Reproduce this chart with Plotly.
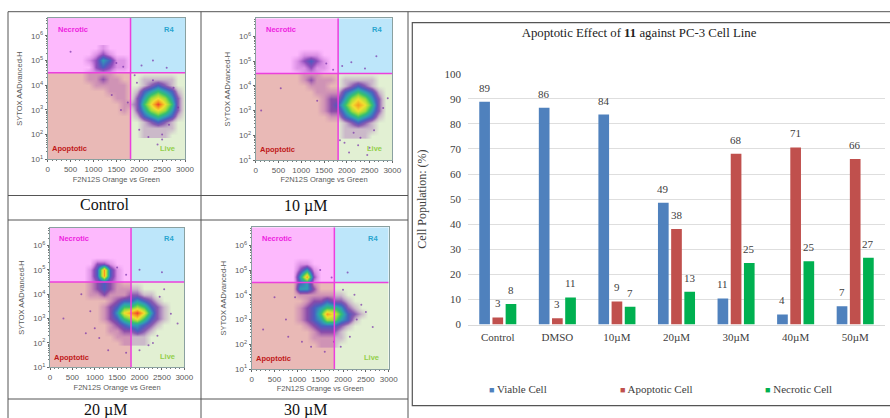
import numpy as np
import plotly.graph_objects as go

W, H = 890, 418

# ---------- bar chart data ----------
categories = ["Control", "DMSO", "10µM", "20µM", "30µM", "40µM", "50µM"]
viable_values = [88.8, 86.4, 83.7, 48.5, 10.4, 4.0, 7.3]
apoptotic_values = [2.8, 2.5, 9.2, 38.1, 68.1, 70.6, 66.0]
necrotic_values = [8.2, 10.8, 7.1, 13.1, 24.5, 25.2, 26.6]
viable_labels = ["89", "86", "84", "49", "11", "4", "7"]
apoptotic_labels = ["3", "3", "9", "38", "68", "71", "66"]
necrotic_labels = ["8", "11", "7", "13", "25", "25", "27"]
y_ticks = [0, 10, 20, 30, 40, 50, 60, 70, 80, 90, 100]

# ---------- dot-plot density read by eye (0 = empty, 9 = densest) ----------
density_x = [0, 150, 300, 450, 600, 750, 900, 1050, 1200, 1350, 1500, 1650, 1800, 1950, 2100, 2250, 2400, 2550, 2700, 2850, 3000]
density_y = [5.5, 5.25, 5.0, 4.75, 4.5, 4.25, 4.0, 3.75, 3.5, 3.25, 3.0, 2.75, 2.5, 2.25, 2.0]

density_control = [
    [0,0,0,0,0,0,0,0,1,0,0,0,0,0,0,0,0,0,0,0,0],
    [0,0,0,0,0,0,0,1,2,1,0,0,0,0,0,0,0,0,0,0,0],
    [0,0,0,0,0,0,1,2,4,3,1,1,0,0,0,0,0,0,0,0,0],
    [0,0,0,0,0,0,0,2,3,2,1,1,0,0,0,0,0,0,0,0,0],
    [0,0,0,0,0,0,1,1,1,1,0,0,0,0,0,0,0,0,0,0,0],
    [0,0,0,0,0,0,1,1,2,1,1,0,0,0,1,1,1,1,1,0,0],
    [0,0,0,0,0,0,0,1,1,1,1,1,0,0,1,2,3,2,1,0,0],
    [0,0,0,0,0,0,0,0,0,1,1,1,0,1,3,4,5,4,3,1,0],
    [0,0,0,0,0,0,0,0,0,0,1,1,0,2,4,6,7,6,4,2,0],
    [0,0,0,0,0,0,0,0,0,0,0,1,1,2,5,7,9,7,5,2,0],
    [0,0,0,0,0,0,0,0,0,0,0,1,0,2,4,6,7,6,4,2,0],
    [0,0,0,0,0,0,0,0,0,0,0,0,0,1,3,4,5,4,3,1,0],
    [0,0,0,0,0,0,0,0,0,0,0,0,0,0,1,2,3,2,1,0,0],
    [0,0,0,0,0,0,0,0,0,0,0,0,0,0,1,1,1,1,1,0,0],
    [0,0,0,0,0,0,0,0,0,0,0,0,0,0,1,1,1,1,0,0,0],
]
density_10um = [
    [0,0,0,0,0,0,0,0,0,0,0,0,0,0,0,0,0,0,0,0,0],
    [0,0,0,0,0,0,0,1,1,1,0,0,0,0,0,0,0,0,0,0,0],
    [0,0,0,0,0,0,1,2,3,2,1,0,0,0,0,0,0,0,0,0,0],
    [0,0,0,0,0,0,1,1,2,1,1,0,0,0,0,0,0,0,0,0,0],
    [0,0,0,0,0,0,0,1,1,1,0,0,0,0,0,0,0,0,0,0,0],
    [0,0,0,0,0,0,0,1,2,1,1,1,0,1,1,1,1,1,0,0,0],
    [0,0,0,0,0,0,0,0,1,1,1,0,0,1,2,3,2,1,0,0,0],
    [0,0,0,0,0,0,0,0,0,1,1,1,1,3,4,5,4,3,1,0,0],
    [0,0,0,0,0,0,0,0,0,0,1,2,2,4,6,7,6,4,2,0,0],
    [0,0,0,0,0,0,0,0,0,0,1,2,3,5,7,8,7,5,2,0,0],
    [0,0,0,0,0,0,0,0,0,0,1,2,2,4,6,7,6,4,2,0,0],
    [0,0,0,0,0,0,0,0,0,0,0,1,1,3,4,5,4,3,1,0,0],
    [0,0,0,0,0,0,0,0,0,0,0,0,0,1,2,3,2,1,0,0,0],
    [0,0,0,0,0,0,0,0,0,0,0,0,0,1,1,1,1,1,0,0,0],
    [0,0,0,0,0,0,0,0,0,0,0,0,0,1,1,1,1,0,0,0,0],
]
density_20um = [
    [0,0,0,0,0,0,0,0,0,0,0,0,0,0,0,0,0,0,0,0,0],
    [0,0,0,0,0,0,0,2,2,1,0,0,0,0,0,0,0,0,0,0,0],
    [0,0,0,0,0,0,1,3,8,3,1,0,0,0,0,0,0,0,0,0,0],
    [0,0,0,0,0,0,1,3,8,3,1,0,0,0,0,0,0,0,0,0,0],
    [0,0,0,0,0,0,1,2,3,2,1,0,0,0,0,0,0,0,0,0,0],
    [0,0,0,0,0,0,1,2,3,2,1,1,1,1,0,0,0,0,0,0,0],
    [0,0,0,0,0,0,1,1,2,1,1,1,2,2,1,1,0,0,0,0,0],
    [0,0,0,0,0,0,0,0,0,1,2,3,3,4,3,2,1,0,0,0,0],
    [0,0,0,0,0,0,0,0,1,2,3,5,5,6,5,3,2,1,0,0,0],
    [0,0,0,0,0,0,0,0,1,2,4,7,8,9,7,4,2,1,0,0,0],
    [0,0,0,0,0,0,0,0,1,2,3,5,6,7,5,3,2,1,0,0,0],
    [0,0,0,0,0,0,0,0,0,1,2,3,4,4,3,2,1,0,0,0,0],
    [0,0,0,0,0,0,0,0,0,1,1,2,2,3,2,1,0,0,0,0,0],
    [0,0,0,0,0,0,0,0,0,0,1,1,1,1,1,0,0,0,0,0,0],
    [0,0,0,0,0,0,0,0,0,0,0,1,1,1,1,0,0,0,0,0,0],
]
density_30um = [
    [0,0,0,0,0,0,0,0,0,0,0,0,0,0,0,0,0,0,0,0,0],
    [0,0,0,0,0,0,0,1,1,0,0,0,0,0,0,0,0,0,0,0,0],
    [0,0,0,0,0,0,0,2,4,1,0,0,0,0,0,0,0,0,0,0,0],
    [0,0,0,0,0,0,0,4,8,2,0,0,0,0,0,0,0,0,0,0,0],
    [0,0,0,0,0,0,0,3,4,1,0,0,0,0,0,0,0,0,0,0,0],
    [0,0,0,0,0,0,0,4,4,2,0,0,0,0,0,0,0,0,0,0,0],
    [0,0,0,0,0,0,0,1,1,1,1,1,1,1,0,0,0,0,0,0,0],
    [0,0,0,0,0,0,0,0,1,2,2,3,2,2,1,0,0,0,0,0,0],
    [0,0,0,0,0,0,0,1,2,3,4,5,5,4,2,1,0,0,0,0,0],
    [0,0,0,0,0,0,0,1,2,3,5,8,7,5,3,2,1,0,0,0,0],
    [0,0,0,0,0,0,0,1,2,3,4,6,6,4,3,1,0,0,0,0,0],
    [0,0,0,0,0,0,0,0,1,2,3,3,3,2,1,0,0,0,0,0,0],
    [0,0,0,0,0,0,0,0,0,1,2,2,2,1,0,0,0,0,0,0,0],
    [0,0,0,0,0,0,0,0,0,1,1,1,1,1,0,0,0,0,0,0,0],
    [0,0,0,0,0,0,0,0,0,0,1,1,1,0,0,0,0,0,0,0,0],
]

# ---------- stray dots read by eye ----------
stray_control_x = [500, 1500, 1650, 1400, 1750, 1600, 1900, 2050, 2300, 2600, 2750, 2850, 2500, 2200, 2400, 2000, 2650, 1950, 2300, 2500]
stray_control_y = [5.35, 4.9, 4.75, 3.6, 3.3, 3.0, 4.4, 4.8, 5.0, 4.7, 3.9, 3.1, 2.0, 1.9, 1.6, 2.2, 2.4, 4.1, 4.2, 1.8]
stray_10um_x = [550, 120, 1550, 1700, 1900, 2100, 2400, 2650, 2800, 2900, 2250, 2050, 2500, 1950, 2300, 2450, 2150, 1850, 2600, 1350]
stray_10um_y = [3.9, 3.0, 4.9, 4.65, 4.8, 4.95, 4.7, 5.2, 3.1, 3.5, 1.6, 1.3, 1.5, 1.7, 1.9, 1.2, 2.1, 1.8, 2.2, 3.4]
stray_20um_x = [300, 800, 700, 1500, 1700, 2000, 2500, 2700, 2850, 2400, 2300, 2550, 1000, 900, 1100, 1300, 1700, 2000, 2200, 2450]
stray_20um_y = [3.0, 2.4, 4.0, 5.1, 4.8, 5.0, 4.9, 3.2, 2.8, 2.3, 2.0, 4.2, 2.6, 3.3, 2.2, 1.7, 1.6, 1.7, 1.9, 3.9]
stray_30um_x = [500, 250, 750, 1500, 1750, 2100, 2300, 2500, 2650, 2150, 1950, 2250, 800, 950, 1100, 1300, 1600, 1800, 2400, 2000]
stray_30um_y = [3.9, 2.6, 3.0, 5.0, 4.7, 4.9, 3.0, 3.3, 2.7, 2.3, 1.9, 4.0, 2.3, 3.9, 2.1, 1.9, 1.7, 2.1, 3.6, 4.2]

panel_names = ["Control", "10 µM", "20 µM", "30 µM"]
density_grids = [density_control, density_10um, density_20um, density_30um]
stray_x = [stray_control_x, stray_10um_x, stray_20um_x, stray_30um_x]
stray_y = [stray_control_y, stray_10um_y, stray_20um_y, stray_30um_y]
flow_x_ticks = [0, 500, 1000, 1500, 2000, 2500, 3000]
flow_y_ticks = [1, 2, 3, 4, 5, 6]
flow_y_labels = ["10<sup>1</sup>", "10<sup>2</sup>", "10<sup>3</sup>", "10<sup>4</sup>", "10<sup>5</sup>", "10<sup>6</sup>"]
gate_x = 1810
gate_y = 4.5

# ---------- layout helpers ----------
def dx(a, b):
    return [a / W, b / W]

def dy(top, bottom):
    return [1 - bottom / H, 1 - top / H]

SERIF = "Liberation Serif"
SANS = "Liberation Sans"
GRAY = "#5a5a5a"

panels = [
    dict(x=(47.7, 185), y=(17.7, 159.3), cx=104, cy=205),
    dict(x=(255.7, 392.3), y=(18.3, 160), cx=305, cy=206),
    dict(x=(50, 184.3), y=(227.7, 367.3), cx=105, cy=410),
    dict(x=(251.7, 388.7), y=(227.3, 369), cx=305, cy=410),
]

colorscale = [
    [0.0, "rgba(150,60,180,0)"],
    [1 / 9, "rgba(150,60,180,0.3)"],
    [2 / 9, "rgba(105,40,165,0.75)"],
    [3 / 9, "#4a5fc0"],
    [4 / 9, "#2f9fb5"],
    [5 / 9, "#35c070"],
    [6 / 9, "#9fdc3a"],
    [7 / 9, "#f2e030"],
    [8 / 9, "#f79a20"],
    [1.0, "#ee4030"],
]

fig = go.Figure()
shapes = []
annotations = []
layout = {}

minor_y = [float(d + np.log10(m)) for d in range(1, 7) for m in range(2, 10) if d + np.log10(m) < 6.7]

for i, p in enumerate(panels):
    n = i + 1
    xa, ya = f"x{n}", f"y{n}"
    y_top = 6.73
    layout[f"xaxis{n}"] = dict(
        domain=dx(*p["x"]), anchor=ya, range=[0, 3000], tickvals=flow_x_ticks, automargin=False,
        ticks="outside", ticklen=2, tickwidth=1, tickcolor="#666",
        tickfont=dict(family=SANS, size=8, color=GRAY), showgrid=False, zeroline=False,
        showline=True, linecolor="#8aa0a0", linewidth=1, mirror=True,
        minor=dict(dtick=100, ticks="outside", ticklen=1, tickcolor="#777"),
        title=dict(text="F2N12S Orange vs Green", standoff=3, font=dict(family=SANS, size=7.5, color=GRAY)),
    )
    layout[f"yaxis{n}"] = dict(
        domain=dy(*p["y"]), anchor=xa, range=[1, y_top], tickvals=flow_y_ticks, ticktext=flow_y_labels,
        automargin=False,
        ticks="outside", ticklen=2, tickwidth=1, tickcolor="#666",
        tickfont=dict(family=SANS, size=8, color=GRAY), showgrid=False, zeroline=False,
        showline=True, linecolor="#8aa0a0", linewidth=1, mirror=True,
        minor=dict(tickvals=minor_y, ticks="outside", ticklen=1, tickcolor="#777"),
        title=dict(text="SYTOX AADvanced-H", standoff=7, font=dict(family=SANS, size=7.5, color=GRAY)),
    )
    # quadrant backgrounds
    for x0, x1, y0, y1, c in [
        (0, gate_x, gate_y, y_top, "#fdb9fd"),
        (gate_x, 3000, gate_y, y_top, "#bde6fa"),
        (0, gate_x, 1, gate_y, "#e9b9b6"),
        (gate_x, 3000, 1, gate_y, "#e2f0d3"),
    ]:
        shapes.append(dict(type="rect", xref=xa, yref=ya, x0=x0, x1=x1, y0=y0, y1=y1,
                           fillcolor=c, line_width=0, layer="below"))
    fig.add_trace(go.Heatmap(
        x=density_x, y=density_y[::-1], z=density_grids[i][::-1], xaxis=xa, yaxis=ya,
        colorscale=colorscale, zmin=0, zmax=9, zsmooth="best", showscale=False, hoverinfo="skip",
    ))
    fig.add_trace(go.Scatter(
        x=stray_x[i], y=stray_y[i], xaxis=xa, yaxis=ya, mode="markers", showlegend=False,
        marker=dict(size=2, color="rgba(120,50,170,0.7)"), hoverinfo="skip",
    ))
    # gates drawn above the dots
    for kw in [dict(x0=gate_x, x1=gate_x, y0=1, y1=y_top), dict(x0=0, x1=3000, y0=gate_y, y1=gate_y)]:
        shapes.append(dict(type="line", xref=xa, yref=ya, line=dict(color="#ec3fdd", width=1.5), layer="above", **kw))
    # quadrant labels
    for tx, ty, txt, col in [
        (546, 6.27, "Necrotic", "#ee22e0"),
        (2658, 6.27, "R4", "#2aa5cf"),
        (473, 1.42, "Apoptotic", "#c01818"),
        (2614, 1.45, "Live", "#93cf4a"),
    ]:
        annotations.append(dict(xref=xa, yref=ya, x=tx, y=ty, text=f"<b>{txt}</b>", showarrow=False,
                                font=dict(family=SANS, size=7.5, color=col)))
    annotations.append(dict(xref="paper", yref="paper", x=p["cx"] / W, y=1 - p["cy"] / H, text=panel_names[i],
                            xanchor="center", yanchor="middle",
                            showarrow=False, font=dict(family=SERIF, size=16, color="#111")))

# ---------- bar chart ----------
series = [
    ("Viable Cell", viable_values, viable_labels, "#4f81bd"),
    ("Apoptotic Cell", apoptotic_values, apoptotic_labels, "#c0504d"),
    ("Necrotic Cell", necrotic_values, necrotic_labels, "#00b050"),
]
slot = 0.2215
for s, (name, vals, labs, col) in enumerate(series):
    fig.add_trace(go.Bar(x=categories, y=vals, name=name, marker=dict(color=col, line_width=0),
                         xaxis="x5", yaxis="y5", showlegend=False))
    for c, (v, lab) in enumerate(zip(vals, labs)):
        annotations.append(dict(xref="x5", yref="y5", x=c + (s - 1) * slot, y=v, yshift=14, text=lab,
                                showarrow=False, font=dict(family=SERIF, size=11, color="#404040")))

layout["xaxis5"] = dict(domain=dx(468, 885), anchor="y5", type="category", categoryorder="array",
                        categoryarray=categories, showgrid=False, ticks="", showline=True, automargin=False,
                        linecolor="#d9d9d9", linewidth=1, ticklabelstandoff=2,
                        tickfont=dict(family=SERIF, size=11, color="#404040"))
layout["yaxis5"] = dict(domain=dy(73.7, 324.5), anchor="x5", range=[0, 100], tickvals=y_ticks, automargin=False,
                        showgrid=True, gridcolor="#dedede", gridwidth=1, zeroline=False, ticks="",
                        ticklabelstandoff=6,
                        tickfont=dict(family=SERIF, size=11, color="#404040"),
                        title=dict(text="Cell Population: (%)", standoff=15,
                                   font=dict(family=SERIF, size=12, color="#404040")))

# legend entries at the reference's uneven spacing
for name, col, lx in [("Viable Cell", "#4f81bd", 487), ("Apoptotic Cell", "#c0504d", 617.5), ("Necrotic Cell", "#00b050", 762.5)]:
    annotations.append(dict(xref="paper", yref="paper", x=lx / W, y=1 - 388.5 / H, xanchor="left", yanchor="middle",
                            text=f"<span style='color:{col};font-size:9px'>■</span> {name}", showarrow=False,
                            font=dict(family=SERIF, size=11, color="#404040")))

# table rules and chart frame
line_col = "#555555"
for x0, y0, x1, y1 in [
    (8, 11.7, 890, 11.7), (8, 195.5, 408, 195.5), (8, 220, 408, 220), (8, 399, 408, 399),
    (8, 11.7, 8, 418), (201, 11.7, 201, 418), (408, 11.7, 408, 418),
]:
    shapes.append(dict(type="line", xref="paper", yref="paper", x0=x0 / W, x1=x1 / W,
                       y0=1 - y0 / H, y1=1 - y1 / H, line=dict(color=line_col, width=1), layer="below"))
shapes.append(dict(type="rect", xref="paper", yref="paper", x0=412.3 / W, x1=892 / W,
                   y0=1 - 405.7 / H, y1=1 - 22.7 / H, line=dict(color="#555555", width=1.2), layer="below"))

fig.update_layout(
    width=W, height=H, margin=dict(l=0, r=0, t=0, b=0),
    paper_bgcolor="white", plot_bgcolor="rgba(0,0,0,0)",
    bargap=0.336, bargroupgap=0.19, barmode="group", showlegend=False,
    shapes=shapes, annotations=annotations,
    title=dict(text="Apoptotic Effect of <b>11</b> against PC-3 Cell Line", x=639 / W, xanchor="center",
               y=1 - 33 / H, yanchor="middle", font=dict(family=SERIF, size=12.8, color="#222")),
    **layout,
)

fig.write_html("out.html", config={"displayModeBar": False},
               post_script="document.body.style.margin='0';document.body.style.overflow='hidden';")
